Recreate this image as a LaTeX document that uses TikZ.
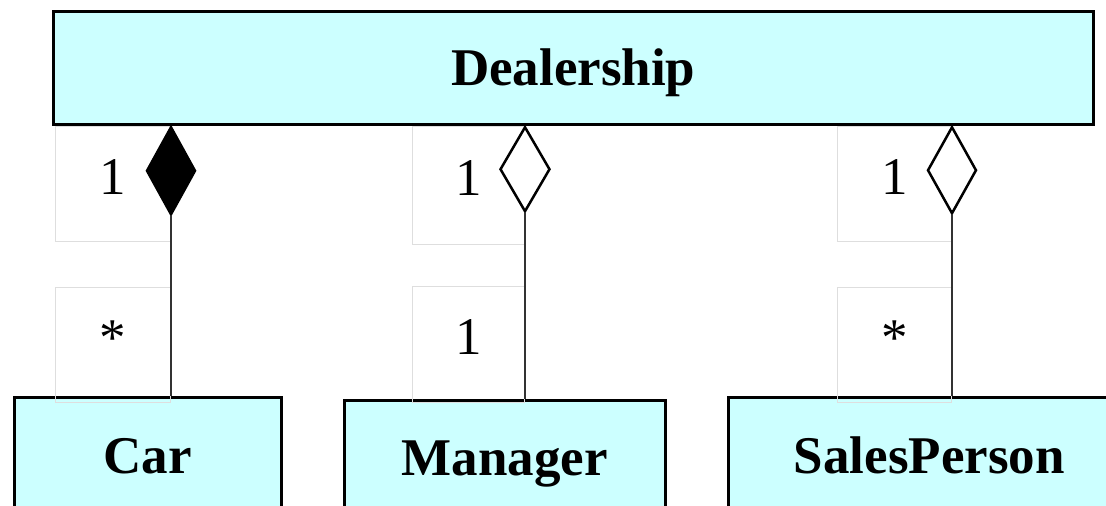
\documentclass[tikz,border=0pt]{standalone}
\usepackage{fontspec}
\setmainfont{Liberation Serif}
\usetikzlibrary{shapes,positioning}

\definecolor{classfill}{RGB}{204,255,255}
\definecolor{multline}{RGB}{222,222,222}

\begin{document}
\begin{tikzpicture}[
        x=1pt, y=-1pt,
        node distance=45pt,
        class/.style={draw, line width=2.5pt, fill=classfill, anchor=north west, inner sep=0pt,
            font=\fontsize{53}{60}\selectfont\bfseries, text height=35pt, text depth=0pt},
        mult/.style={draw=multline, line width=1pt, inner sep=0pt, minimum width=115pt, minimum height=115pt,
            font=\fontsize{53}{60}\selectfont, text height=21pt, text depth=0pt},
        whole/.style={draw, diamond, line width=2.5pt, anchor=north, inner sep=0pt,
            minimum width=49pt, minimum height=88pt},
        link/.style={draw=black!80, line width=2.5pt}
    ]
    \useasboundingbox (0,0) rectangle (1106,506);
    \clip (0,0) rectangle (1106,506);

    % Classes
    \node[class, minimum width=1040pt, minimum height=113pt] (dealer) at (52,10) {Dealership};
    \node[class, minimum width=267pt, minimum height=118pt] (car) at (13,396) {Car};
    \node[class, minimum width=321pt, minimum height=116pt] (manager) at (343,399) {Manager};
    \node[class, minimum width=402pt, minimum height=118pt] (sales) at (727,396) {SalesPerson};

    % Multiplicities
    \node[mult, below left=0pt and 0pt of dealer.south west, xshift=119pt] (carone) {1};
    \node[mult, below=of carone] (carmany) {*};
    \node[mult, below left=0pt and 0pt of dealer.south west, xshift=473pt, minimum width=112pt, minimum height=118pt] (mgrone) {1};
    \node[mult, below=41pt of mgrone, minimum width=112pt, minimum height=116pt] (mgrmany) {1};
    \node[mult, below left=0pt and 0pt of dealer.south west, xshift=900pt, minimum width=114pt] (salone) {1};
    \node[mult, below=of salone, minimum width=114pt] (salmany) {*};

    % Diamonds
    \node[whole, fill=black] (cardia) at (carone.north east) {};
    \node[whole, fill=white, minimum width=50pt, minimum height=85pt] (mgrdia) at (mgrone.north east) {};
    \node[whole, fill=white, minimum height=87pt] (saldia) at (salone.north east) {};

    % Links
    \draw[link] (cardia.south) -- (cardia.south |- car.north);
    \draw[link] (mgrdia.south) -- (mgrdia.south |- manager.north);
    \draw[link] (saldia.south) -- (saldia.south |- sales.north);

\end{tikzpicture}
\end{document}
